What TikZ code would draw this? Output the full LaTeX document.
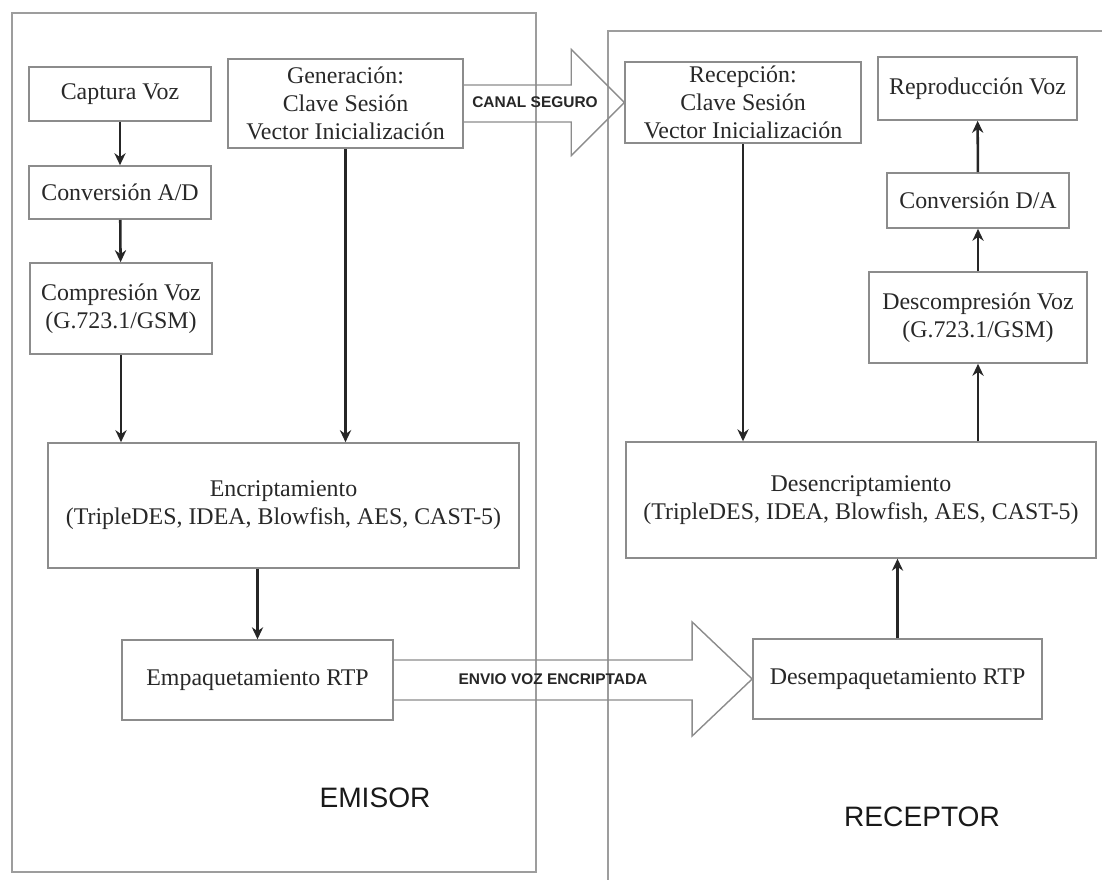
\documentclass[tikz,border=0pt]{standalone}
\usepackage{fontspec}
\setmainfont{Liberation Serif}
\setsansfont{Liberation Sans}
\usepackage{tikz}
\usepackage{xcolor}
\usetikzlibrary{arrows.meta, positioning, calc}
\definecolor{cLine}{RGB}{140,140,140}
\definecolor{cText}{RGB}{40,40,40}
\tikzset{
	process/.style  ={rectangle, draw=cLine, line width=1pt, align=center, text=cText, inner sep=2pt, font=\fontsize{17}{20}\selectfont},
	flowarrow/.style={-{Stealth[length=3mm, width=2.8mm]}, line width=1.8pt, black!85},
	bigarrow/.style ={draw=cLine, line width=1pt, line join=miter},
	chan/.style     ={font=\sffamily\bfseries\fontsize{11}{13}\selectfont, text=black!85},
	side/.style     ={font=\sffamily\fontsize{20}{24}\selectfont, text=black!90},
	panel/.style    ={draw=cLine!85, line width=1pt},
}
\begin{document}
\begin{tikzpicture}[x=0.025cm, y=-0.025cm]
	\useasboundingbox (0,0) rectangle (1102,879);
	\clip (0,0) rectangle (1102,879);
	% emisor / receptor panels
	\draw[panel] (12,13) rectangle (536,872);
	\draw[panel] (608,31) rectangle (1130,900);
	% emisor
	\node[process, minimum width=4.55cm, minimum height=1.35cm] (cap) at (120,94) {Captura Voz};
	\node[process, minimum width=4.55cm, minimum height=1.33cm] (ad) at (120,192.5) {Conversión A/D};
	\node[process, minimum width=4.55cm, minimum height=2.28cm] (comp) at (121,308.5) {Compresión Voz\\ (G.723.1/GSM)};
	\node[process, minimum width=5.88cm, minimum height=2.23cm] (gen) at (345.5,103.5) {Generación:\\ Clave Sesión\\ Vector Inicialización};
	\node[process, minimum width=11.78cm, minimum height=3.13cm] (enc) at (283.5,505.5) {Encriptamiento\\ (TripleDES, IDEA, Blowfish, AES, CAST-5)};
	\node[process, minimum width=6.78cm, minimum height=2.0cm] (emp) at (257.5,680) {Empaquetamiento RTP};
	% receptor
	\node[process, minimum width=5.9cm, minimum height=2.03cm] (rec) at (743,102.5) {Recepción:\\ Clave Sesión\\ Vector Inicialización};
	\node[process, minimum width=4.98cm, minimum height=1.58cm] (rep) at (977.5,88.5) {Reproducción Voz};
	\node[process, minimum width=4.55cm, minimum height=1.38cm] (da) at (978,200.5) {Conversión D/A};
	\node[process, minimum width=5.45cm, minimum height=2.28cm] (desc) at (978,317.5) {Descompresión Voz\\ (G.723.1/GSM)};
	\node[process, minimum width=11.75cm, minimum height=2.9cm] (denc) at (861,500) {Desencriptamiento\\ (TripleDES, IDEA, Blowfish, AES, CAST-5)};
	\node[process, minimum width=7.23cm, minimum height=2.0cm] (demp) at (897.5,679) {Desempaquetamiento RTP};
	\node[side] (emisor) at (375,798) {EMISOR};
	\node[side] (receptor) at (922,817) {RECEPTOR};
	% flujo emisor
	\draw[flowarrow] (cap) -- (ad);
	\draw[flowarrow] (ad) -- (comp);
	\draw[flowarrow] (comp.south) -- (comp.south |- enc.north);
	\draw[flowarrow] (gen.south) -- (gen.south |- enc.north);
	\draw[flowarrow] (emp.north |- enc.south) -- (emp.north);
	% flujo receptor
	\draw[flowarrow] (rec.south) -- (rec.south |- denc.north);
	\draw[flowarrow] (demp.north) -- (demp.north |- denc.south);
	\draw[flowarrow] (desc.south |- denc.north) -- (desc.south);
	\draw[flowarrow] (desc) -- (da);
	\draw[flowarrow] (da) -- (rep);
	% canales
	\draw[bigarrow] ($(gen.east)+(0,-18.5)$) -| ($(rec.west)+(-53,-53)$) -- (rec.west) -- ($(rec.west)+(-53,53)$) |- ($(gen.east)+(0,18.5)$);
	\draw[bigarrow] ($(emp.east)+(0,-20)$) -| ($(demp.west)+(-60,-57)$) -- (demp.west) -- ($(demp.west)+(-60,57)$) |- ($(emp.east)+(0,20)$);
	\node[chan] (canal) at (535,102) {CANAL SEGURO};
	\node[chan] (envio) at (553,679) {ENVIO VOZ ENCRIPTADA};
\end{tikzpicture}
\end{document}
